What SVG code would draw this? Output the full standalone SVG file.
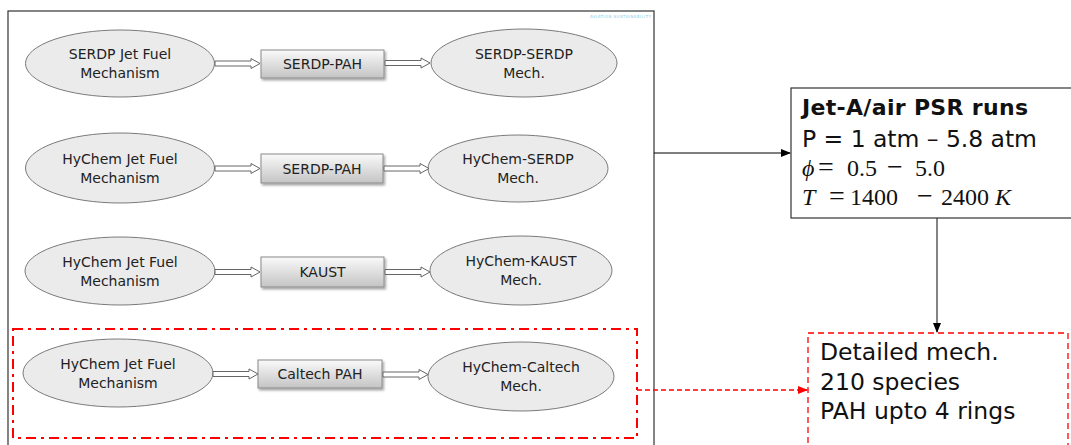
<svg xmlns="http://www.w3.org/2000/svg" width="1071" height="445" viewBox="0 0 1071 445">
<defs>
<linearGradient id="boxg" x1="0" y1="0" x2="0" y2="1">
<stop offset="0" stop-color="#fafafa"/>
<stop offset="1" stop-color="#c4c4c4"/>
</linearGradient>
<filter id="sh" x="-10%" y="-20%" width="130%" height="160%">
<feDropShadow dx="1.5" dy="2" stdDeviation="1.2" flood-color="#000" flood-opacity="0.35"/>
</filter>
<marker id="ah" markerWidth="10" markerHeight="8" refX="9" refY="4" orient="auto" markerUnits="userSpaceOnUse">
<path d="M0,0 L10,4 L0,8 z" fill="#000"/>
</marker>
<marker id="ahr" markerWidth="10" markerHeight="8" refX="9" refY="4" orient="auto" markerUnits="userSpaceOnUse">
<path d="M0,0 L10,4 L0,8 z" fill="#f00"/>
</marker>
<path id="dbl" d="M0,-2.5 H36 V-5 L45,0 L36,5 V2.5 H0 Z" fill="#fff" stroke="#666" stroke-width="1"/>
</defs>
<style>
.el{fill:#ebebeb;stroke:#7a7a7a;stroke-width:1}
.bx{fill:url(#boxg);stroke:#8a8a8a;stroke-width:1;filter:url(#sh)}
.t{font-family:"DejaVu Sans",sans-serif;font-size:14px;fill:#222;text-anchor:middle}
.big{font-family:"DejaVu Sans",sans-serif;font-size:23.5px;fill:#111}
.math{font-family:"Liberation Serif",serif;font-size:24px;fill:#111}
.it{font-style:italic}
.op{font-size:28px}
</style>
<rect width="1071" height="445" fill="#fff"/>
<rect id="frame" x="8" y="11" width="646" height="450" fill="none" stroke="#333" stroke-width="1.2"/>
<text x="590" y="18" font-family="DejaVu Sans, sans-serif" font-size="4" fill="#7fd0f0" textLength="61">AVIATION SUSTAINABILITY</text>

<g id="row1">
<g id="n1a"><ellipse class="el" cx="120" cy="63.5" rx="94.5" ry="33.5"/><text class="t" x="120" y="59">SERDP Jet Fuel</text><text class="t" x="120" y="78">Mechanism</text></g>
<g id="n1b"><rect class="bx" x="261" y="50" width="123" height="28"/><text class="t" x="322.5" y="69">SERDP-PAH</text></g>
<g id="n1c"><ellipse class="el" cx="524" cy="63" rx="93" ry="34"/><text class="t" x="524" y="59">SERDP-SERDP</text><text class="t" x="524" y="78">Mech.</text></g>
</g>
<g id="row2">
<g id="n2a"><ellipse class="el" cx="120" cy="168" rx="94.5" ry="35"/><text class="t" x="120" y="163.5">HyChem Jet Fuel</text><text class="t" x="120" y="182.5">Mechanism</text></g>
<g id="n2b"><rect class="bx" x="261" y="154" width="122" height="29"/><text class="t" x="322" y="173.5">SERDP-PAH</text></g>
<g id="n2c"><ellipse class="el" cx="518" cy="168.5" rx="90" ry="33.5"/><text class="t" x="518" y="164">HyChem-SERDP</text><text class="t" x="518" y="183">Mech.</text></g>
</g>
<g id="row3">
<g id="n3a"><ellipse class="el" cx="120" cy="271" rx="95" ry="34"/><text class="t" x="120" y="266.5">HyChem Jet Fuel</text><text class="t" x="120" y="285.5">Mechanism</text></g>
<g id="n3b"><rect class="bx" x="261" y="257" width="123" height="30"/><text class="t" x="322.5" y="277">KAUST</text></g>
<g id="n3c"><ellipse class="el" cx="521" cy="270.5" rx="91" ry="34.5"/><text class="t" x="521" y="266">HyChem-KAUST</text><text class="t" x="521" y="285">Mech.</text></g>
</g>
<g id="row4">
<g id="n4a"><ellipse class="el" cx="118" cy="373" rx="95" ry="34"/><text class="t" x="118" y="368.5">HyChem Jet Fuel</text><text class="t" x="118" y="387.5">Mechanism</text></g>
<g id="n4b"><rect class="bx" x="258" y="360" width="124" height="28"/><text class="t" x="320" y="379">Caltech PAH</text></g>
<g id="n4c"><ellipse class="el" cx="521" cy="376.5" rx="93" ry="34.5"/><text class="t" x="521" y="372">HyChem-Caltech</text><text class="t" x="521" y="391">Mech.</text></g>
</g>
<g id="highlight"><rect x="13" y="329" width="624" height="109" fill="none" stroke="#f00" stroke-width="2" stroke-dasharray="10,5,3,5"/></g>

<g id="psr">
<rect x="791" y="88" width="282" height="130" fill="#fff" stroke="#333" stroke-width="1.2"/>
<text x="802" y="115" font-family="DejaVu Sans, sans-serif" font-size="22" font-weight="bold" fill="#111" textLength="226">Jet-A/air PSR runs</text>
<text class="big" x="802" y="147" textLength="235">P = 1 atm – 5.8 atm</text>
<text class="math" y="176"><tspan class="it" x="802">ϕ</tspan><tspan class="op" x="818">=</tspan><tspan x="847">0.5</tspan><tspan class="op" x="887">−</tspan><tspan x="915">5.0</tspan></text>
<text class="math" y="205"><tspan class="it" x="802">T</tspan><tspan class="op" x="829">=</tspan><tspan x="850">1400</tspan><tspan class="op" x="917">−</tspan><tspan x="941">2400</tspan><tspan class="it" x="995">K</tspan></text>
</g>
<g id="detailed">
<rect x="808" y="333" width="260" height="130" fill="#fff" stroke="#f00" stroke-width="1.3" stroke-dasharray="6,4"/>
<text class="big" x="820" y="360">Detailed mech.</text>
<text class="big" x="820" y="390">210 species</text>
<text class="big" x="820" y="419">PAH upto 4 rings</text>
</g>

<g id="connectors">
<use href="#dbl" x="215" y="63.5"/>
<use href="#dbl" x="385" y="63"/>
<use href="#dbl" x="215" y="168.5"/>
<use href="#dbl" x="384" y="168.5"/>
<use href="#dbl" x="215" y="272"/>
<use href="#dbl" x="385" y="272"/>
<use href="#dbl" x="213" y="374"/>
<use href="#dbl" x="383" y="374.5"/>
<line x1="654" y1="153" x2="790" y2="153" stroke="#000" stroke-width="1.2" marker-end="url(#ah)"/>
<line x1="937" y1="218" x2="937" y2="332" stroke="#333" stroke-width="1.2" marker-end="url(#ah)"/>
<line x1="637" y1="390" x2="807" y2="390" stroke="#f00" stroke-width="1.3" stroke-dasharray="5,3" marker-end="url(#ahr)"/>
</g>
</svg>
